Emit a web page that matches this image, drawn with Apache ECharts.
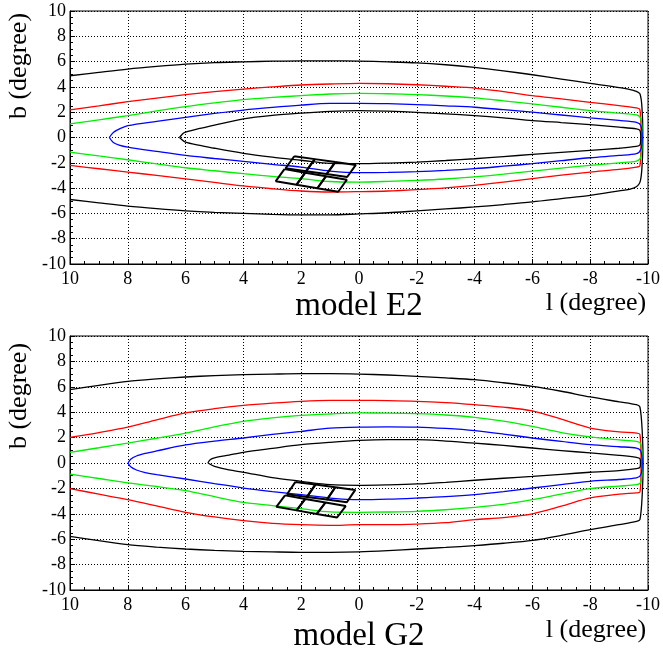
<!DOCTYPE html>
<html><head><meta charset="utf-8">
<script src="https://cdn.jsdelivr.net/npm/echarts@6/dist/echarts.min.js"></script>
<style>html,body{margin:0;padding:0;background:#fff}#c{width:663px;height:652px}</style>
</head><body><div id="c"></div>
<script>
// ---------- model E2 contours [l, b] ----------
const e2OuterBlack = [[10,4.88],[9,5.15],[8,5.41],[7,5.62],[6,5.8],[5,5.92],[4,5.98],[3,6.03],[2,6.06],[1,6.06],[0,6.04],[-1,5.98],[-2,5.9],[-3,5.75],[-4,5.54],[-5,5.27],[-6,4.96],[-7,4.62],[-8,4.28],[-9,3.95],[-9.5,3.72],[-9.72,3.45],[-9.8,2.0],[-9.82,0],[-9.8,-2.0],[-9.72,-3.55],[-9.5,-4.0],[-9,-4.22],[-8,-4.57],[-7,-4.83],[-6,-5.09],[-5,-5.3],[-4,-5.49],[-3,-5.65],[-2,-5.8],[-1,-5.95],[0,-6.04],[1,-6.12],[2,-6.12],[3,-6.08],[4,-6.0],[5,-5.92],[6,-5.8],[7,-5.63],[8,-5.43],[9,-5.17],[10,-4.9]];
const e2Red = [[10,2.18],[9,2.5],[8,2.83],[7,3.12],[6,3.39],[5,3.62],[4,3.83],[3,4.0],[2,4.15],[1,4.23],[0,4.28],[-1,4.25],[-2,4.17],[-3,4.05],[-4,3.91],[-5,3.62],[-6,3.31],[-7,3.05],[-8,2.78],[-9,2.52],[-9.6,2.34],[-9.72,2.2],[-9.76,0],[-9.72,-2.25],[-9.6,-2.34],[-9,-2.52],[-8,-2.73],[-7,-2.98],[-6,-3.25],[-5,-3.52],[-4,-3.78],[-3,-3.98],[-2,-4.12],[-1,-4.23],[0,-4.28],[1,-4.31],[2,-4.23],[3,-4.05],[4,-3.83],[5,-3.55],[6,-3.27],[7,-3.0],[8,-2.73],[9,-2.47],[10,-2.2]];
const e2Green = [[10,1.08],[9,1.4],[8,1.73],[7,2.1],[6,2.44],[5,2.73],[4,2.99],[3,3.17],[2,3.31],[1,3.44],[0,3.49],[-1,3.46],[-2,3.39],[-3,3.28],[-4,3.13],[-5,2.9],[-6,2.65],[-7,2.39],[-8,2.13],[-9,1.92],[-9.6,1.78],[-9.75,1.5],[-9.8,0],[-9.75,-1.55],[-9.6,-1.87],[-9,-2.0],[-8,-2.2],[-7,-2.42],[-6,-2.65],[-5,-2.9],[-4,-3.12],[-3,-3.28],[-2,-3.39],[-1,-3.47],[0,-3.52],[1,-3.48],[2,-3.25],[3,-3.07],[4,-2.86],[5,-2.63],[6,-2.39],[7,-2.08],[8,-1.76],[9,-1.46],[10,-1.16]];
const e2Blue = [[8.64,0],[8.5,0.4],[8.25,0.72],[8,0.94],[7,1.28],[6,1.59],[5,1.9],[4,2.17],[3,2.38],[2,2.56],[1,2.69],[0,2.7],[-1,2.67],[-2,2.6],[-3,2.5],[-4,2.39],[-5,2.2],[-6,2.0],[-7,1.78],[-8,1.55],[-9,1.35],[-9.6,1.2],[-9.75,0.95],[-9.8,0],[-9.75,-0.95],[-9.6,-1.28],[-9,-1.42],[-8,-1.6],[-7,-1.83],[-6,-2.07],[-5,-2.27],[-4,-2.46],[-3,-2.6],[-2,-2.7],[-1,-2.76],[0,-2.78],[1,-2.65],[2,-2.34],[3,-2.12],[4,-1.89],[5,-1.66],[6,-1.42],[7,-1.1],[8,-0.76],[8.3,-0.6],[8.5,-0.4],[8.64,0]];
const e2InnerBlack = [[6.21,0],[6.1,0.3],[6,0.42],[5.5,0.72],[5,0.98],[4,1.47],[3,1.75],[2,1.93],[1,2.07],[0,2.13],[-1,2.08],[-2,1.99],[-3,1.87],[-4,1.73],[-5,1.55],[-6,1.34],[-7,1.18],[-8,1.02],[-9,0.82],[-9.6,0.68],[-9.72,0.55],[-9.75,0],[-9.72,-0.6],[-9.6,-0.71],[-9,-0.85],[-8,-1.02],[-7,-1.18],[-6,-1.34],[-5,-1.51],[-4,-1.68],[-3,-1.82],[-2,-1.94],[-1,-2.02],[0,-2.07],[1,-2.05],[2,-1.8],[3,-1.55],[4,-1.25],[5,-0.85],[5.5,-0.62],[6,-0.37],[6.21,0]];

// ---------- model G2 contours [l, b] ----------
const g2OuterBlack = [[10,5.77],[9,6.12],[8,6.43],[7,6.62],[6,6.77],[5,6.88],[4,6.96],[3,7.0],[2,7.03],[1,7.03],[0,7.0],[-1,6.93],[-2,6.82],[-3,6.7],[-4,6.56],[-5,6.32],[-6,6.04],[-7,5.65],[-8,5.2],[-9,4.82],[-9.6,4.59],[-9.72,4.41],[-9.8,2.5],[-9.83,0],[-9.8,-2.5],[-9.72,-4.46],[-9.6,-4.6],[-9,-4.85],[-8,-5.25],[-7,-5.7],[-6,-6.09],[-5,-6.32],[-4,-6.5],[-3,-6.65],[-2,-6.77],[-1,-6.9],[0,-7.0],[1,-7.03],[2,-7.03],[3,-7.0],[4,-6.96],[5,-6.88],[6,-6.77],[7,-6.62],[8,-6.43],[9,-6.12],[10,-5.77]];
const g2Red = [[10,2.02],[9,2.4],[8,2.83],[7,3.4],[6,3.94],[5,4.28],[4,4.54],[3,4.72],[2,4.86],[1,4.93],[0,4.93],[-1,4.91],[-2,4.86],[-3,4.75],[-4,4.59],[-5,4.4],[-6,4.1],[-7,3.45],[-8,2.75],[-9,2.45],[-9.6,2.35],[-9.72,2.25],[-9.76,0],[-9.72,-2.3],[-9.6,-2.35],[-9,-2.45],[-8,-2.75],[-7,-3.4],[-6,-4.0],[-5,-4.3],[-4,-4.46],[-3,-4.7],[-2,-4.81],[-1,-4.86],[0,-4.86],[1,-4.91],[2,-4.86],[3,-4.75],[4,-4.54],[5,-4.25],[6,-3.88],[7,-3.38],[8,-2.89],[9,-2.45],[10,-2.02]];
const g2Green = [[10,0.84],[9,1.2],[8,1.57],[7,1.95],[6,2.36],[5,2.85],[4,3.28],[3,3.55],[2,3.75],[1,3.86],[0,3.94],[-1,3.93],[-2,3.88],[-3,3.78],[-4,3.6],[-5,3.3],[-6,2.89],[-7,2.4],[-8,2.05],[-9,1.82],[-9.6,1.7],[-9.75,1.5],[-9.8,0],[-9.75,-1.5],[-9.6,-1.71],[-9,-1.82],[-8,-2.02],[-7,-2.45],[-6,-2.89],[-5,-3.25],[-4,-3.49],[-3,-3.68],[-2,-3.81],[-1,-3.86],[0,-3.88],[1,-3.85],[2,-3.6],[3,-3.35],[4,-3.1],[5,-2.65],[6,-2.18],[7,-1.85],[8,-1.57],[9,-1.22],[10,-0.87]];
const g2Blue = [[7.99,0],[7.9,0.3],[7.7,0.55],[7.4,0.75],[7,0.95],[6,1.42],[5,1.72],[4,1.97],[3,2.25],[2,2.49],[1,2.74],[0,2.83],[-1,2.85],[-2,2.83],[-3,2.72],[-4,2.55],[-5,2.28],[-6,1.97],[-7,1.7],[-8,1.44],[-9,1.28],[-9.6,1.18],[-9.75,0.95],[-9.8,0],[-9.75,-0.95],[-9.6,-1.18],[-9,-1.3],[-8,-1.44],[-7,-1.7],[-6,-1.97],[-5,-2.25],[-4,-2.49],[-3,-2.65],[-2,-2.76],[-1,-2.85],[0,-2.89],[1,-2.76],[2,-2.49],[3,-2.25],[4,-1.97],[5,-1.62],[6,-1.26],[7,-0.92],[7.4,-0.75],[7.7,-0.55],[7.9,-0.3],[7.99,0]];
const g2InnerBlack = [[5.23,0],[5.15,0.25],[5,0.4],[4.5,0.62],[4,0.84],[3,1.15],[2,1.44],[1,1.63],[0,1.78],[-1,1.84],[-2,1.84],[-3,1.73],[-4,1.57],[-5,1.38],[-6,1.18],[-7,0.98],[-8,0.79],[-9,0.6],[-9.6,0.45],[-9.72,0.35],[-9.74,0],[-9.72,-0.35],[-9.6,-0.45],[-9,-0.6],[-8,-0.73],[-7,-0.89],[-6,-1.05],[-5,-1.2],[-4,-1.36],[-3,-1.52],[-2,-1.65],[-1,-1.72],[0,-1.76],[1,-1.71],[2,-1.44],[3,-1.15],[4,-0.73],[4.5,-0.55],[5,-0.26],[5.23,0]];

// ---------- observed fields (quadrilateral corners [l, b]) ----------
const e2Fields = [
  [[2.24,-1.48],[1.53,-1.71],[1.83,-2.66],[2.54,-2.43]],
  [[1.53,-1.71],[0.82,-1.94],[1.12,-2.89],[1.83,-2.66]],
  [[0.82,-1.94],[0.11,-2.17],[0.41,-3.12],[1.12,-2.89]],
  [[2.58,-2.50],[1.86,-2.78],[2.16,-3.73],[2.88,-3.45]],
  [[1.86,-2.78],[1.14,-3.06],[1.44,-4.01],[2.16,-3.73]],
  [[1.14,-3.06],[0.42,-3.34],[0.72,-4.29],[1.44,-4.01]]
];
const g2Fields = [
  [[2.20,-1.49],[1.51,-1.70],[1.80,-2.67],[2.49,-2.46]],
  [[1.51,-1.70],[0.82,-1.91],[1.11,-2.88],[1.80,-2.67]],
  [[0.82,-1.91],[0.13,-2.12],[0.42,-3.09],[1.11,-2.88]],
  [[2.56,-2.55],[1.86,-2.83],[2.16,-3.73],[2.86,-3.45]],
  [[1.86,-2.83],[1.16,-3.11],[1.46,-4.01],[2.16,-3.73]],
  [[1.16,-3.11],[0.46,-3.39],[0.76,-4.29],[1.46,-4.01]]
];

const panelTitles = ['model E2', 'model G2'];
const xName = 'l (degree)';
const yName = 'b (degree)';

const SERIF = '"Liberation Serif", "DejaVu Serif", serif';
const chart = echarts.init(document.getElementById('c'), null, {renderer: 'canvas'});

function axisX(gi) {
  return {
    type: 'value', gridIndex: gi, min: -10, max: 10, interval: 2, inverse: true,
    axisLine: {show: true, onZero: false, lineStyle: {color: '#000', width: 1}},
    axisTick: {show: true, inside: true, length: 5, lineStyle: {color: '#000'}},
    minorTick: {show: true, splitNumber: 4, length: 3, lineStyle: {color: '#000'}},
    axisLabel: {color: '#000', fontFamily: SERIF, fontSize: 18, margin: 6},
    splitLine: {show: true, lineStyle: {color: '#000', width: 1, type: [1, 2]}}
  };
}
function axisY(gi) {
  return {
    type: 'value', gridIndex: gi, min: -10, max: 10, interval: 2,
    axisLine: {show: true, onZero: false, lineStyle: {color: '#000', width: 1}},
    axisTick: {show: true, inside: true, length: 5, lineStyle: {color: '#000'}},
    minorTick: {show: true, splitNumber: 4, length: 3, lineStyle: {color: '#000'}},
    axisLabel: {color: '#000', fontFamily: SERIF, fontSize: 18, margin: 4},
    splitLine: {show: true, lineStyle: {color: '#000', width: 1, type: [1, 2]}}
  };
}
function lineSeries(gi, data, color, width, smooth) {
  return {
    type: 'line', xAxisIndex: gi, yAxisIndex: gi, data: data,
    symbol: 'none', smooth: smooth, silent: true,
    lineStyle: {color: color, width: width}
  };
}

const series = [];
const panels = [
  {curves: [[e2OuterBlack,'#000'],[e2Red,'#ff0000'],[e2Green,'#00ee00'],[e2Blue,'#0000ff'],[e2InnerBlack,'#000']], fields: e2Fields},
  {curves: [[g2OuterBlack,'#000'],[g2Red,'#ff0000'],[g2Green,'#00ee00'],[g2Blue,'#0000ff'],[g2InnerBlack,'#000']], fields: g2Fields}
];
panels.forEach((p, gi) => {
  p.curves.forEach(c => series.push(lineSeries(gi, c[0], c[1], 1.3, 0.3)));
  p.fields.forEach(q => series.push(lineSeries(gi, q.concat([q[0]]), '#000', 2, false)));
});

const textStyle = (t, size) => ({text: t, fill: '#000', font: size + 'px ' + SERIF,
  align: 'center', verticalAlign: 'middle', textAlign: 'center', textVerticalAlign: 'middle'});

chart.setOption({
  animation: false,
  backgroundColor: '#fff',
  grid: [
    {left: 70, top: 11, width: 580, height: 253, show: true, borderColor: '#000', borderWidth: 1, backgroundColor: 'transparent'},
    {left: 70, top: 336, width: 580, height: 254, show: true, borderColor: '#000', borderWidth: 1, backgroundColor: 'transparent'}
  ],
  xAxis: [axisX(0), axisX(1)],
  yAxis: [axisY(0), axisY(1)],
  series: series,
  graphic: [
    {type: 'text', x: 19, y: 66, rotation: Math.PI / 2, style: textStyle(yName, 26)},
    {type: 'text', x: 19, y: 396, rotation: Math.PI / 2, style: textStyle(yName, 26)},
    {type: 'text', x: 359, y: 306, style: textStyle(panelTitles[0], 33)},
    {type: 'text', x: 359, y: 636, style: textStyle(panelTitles[1], 33)},
    {type: 'text', x: 596, y: 303, style: textStyle(xName, 26)},
    {type: 'text', x: 596, y: 630, style: textStyle(xName, 26)}
  ]
});
</script>
</body></html>
